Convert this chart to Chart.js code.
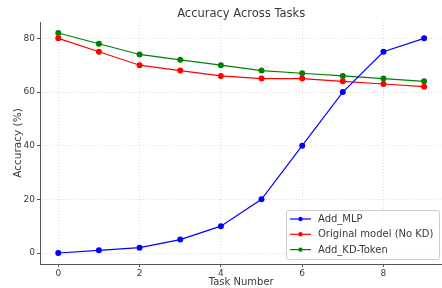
<!DOCTYPE html>
<html>
<head>
<meta charset="utf-8">
<script src="https://cdn.jsdelivr.net/npm/chart.js@4"></script>
<style>
  html, body { margin: 0; padding: 0; background: #fff; overflow: hidden; }
  #wrap { width: 446px; height: 288px; }
</style>
</head>
<body>
<div id="wrap"><canvas id="chart" width="446" height="288"></canvas></div>
<script>
// === datos ===
const tareas = [0, 1, 2, 3, 4, 5, 6, 7, 8, 9];
const addMlp = [0, 1, 2, 5, 10, 20, 40, 60, 75, 80];
const original = [80, 75, 70, 68, 66, 65, 65, 64, 63, 62];
const addKdToken = [82, 78, 74, 72, 70, 68, 67, 66, 65, 64];
const xTicks = [0, 2, 4, 6, 8];
const yTicks = [0, 20, 40, 60, 80];
const nombres = ['Add_MLP', 'Original model (No KD)', 'Add_KD-Token'];
const colores = ['#0000ff', '#ff0000', '#008000'];

const FONT = '"DejaVu Sans", sans-serif';
const TXT = '#3a3a3a';

function serie(i, vals) {
  return {
    label: nombres[i],
    data: tareas.map((t, k) => ({ x: t, y: vals[k] })),
    borderColor: colores[i],
    backgroundColor: colores[i],
    borderWidth: 1.2,
    pointRadius: 2.4,
    pointHoverRadius: 2.4,
    tension: 0
  };
}

// titulo + leyenda dibujados a mano (estilo matplotlib)
const extras = {
  id: 'extras',
  afterDraw(chart) {
    const ctx = chart.ctx;
    const a = chart.chartArea;
    ctx.save();
    ctx.fillStyle = TXT;
    ctx.font = '11.5px ' + FONT;
    ctx.textAlign = 'center';
    ctx.textBaseline = 'middle';
    ctx.fillText('Accuracy Across Tasks', (a.left + a.right) / 2, 14);

    // leyenda
    const bx = 286, by = 210, bw = 153, bh = 49;
    ctx.fillStyle = 'rgba(255,255,255,0.85)';
    ctx.strokeStyle = '#cccccc';
    ctx.lineWidth = 1;
    ctx.beginPath();
    ctx.roundRect(bx + 0.5, by + 0.5, bw, bh, 2);
    ctx.fill();
    ctx.stroke();
    ctx.font = '10px ' + FONT;
    ctx.textAlign = 'left';
    chart.data.datasets.forEach((ds, i) => {
      const y = 219 + i * 15.3;
      ctx.strokeStyle = ds.borderColor;
      ctx.lineWidth = 1.2;
      ctx.beginPath();
      ctx.moveTo(290, y);
      ctx.lineTo(311, y);
      ctx.stroke();
      ctx.fillStyle = ds.borderColor;
      ctx.beginPath();
      ctx.arc(300.5, y, 2.2, 0, Math.PI * 2);
      ctx.fill();
      ctx.fillStyle = TXT;
      ctx.fillText(ds.label, 318, y + 0.5);
    });
    ctx.restore();
  }
};

new Chart(document.getElementById('chart'), {
  type: 'line',
  data: {
    datasets: [serie(0, addMlp), serie(1, original), serie(2, addKdToken)]
  },
  options: {
    responsive: false,
    animation: false,
    layout: { padding: { top: 22, left: 0, right: 0, bottom: 0 } },
    plugins: { legend: { display: false }, title: { display: false }, tooltip: { enabled: false } },
    scales: {
      x: {
        type: 'linear',
        min: -0.45,
        max: 9.45,
        afterBuildTicks: s => { s.ticks = xTicks.map(v => ({ value: v })); },
        afterFit: s => { s.height = 24; },
        grid: { color: '#dddddd', tickColor: '#555', tickLength: 3 },
        border: { display: true, color: '#555', width: 1, dash: [1, 2] },
        ticks: { color: TXT, font: { family: FONT, size: 9 }, padding: 1, maxRotation: 0 },
        title: { display: true, text: 'Task Number', color: TXT, font: { family: FONT, size: 10 }, padding: { top: 0, bottom: 0 } }
      },
      y: {
        type: 'linear',
        min: -4.1,
        max: 86.1,
        afterBuildTicks: s => { s.ticks = yTicks.map(v => ({ value: v })); },
        afterFit: s => { s.width = 40; },
        grid: { color: '#dddddd', tickColor: '#555', tickLength: 3 },
        border: { display: true, color: '#555', width: 1, dash: [1, 2] },
        ticks: { color: TXT, font: { family: FONT, size: 9 }, padding: 2 },
        title: { display: true, text: 'Accuracy (%)', color: TXT, font: { family: FONT, size: 10.5 }, padding: { top: 12, bottom: 2 } }
      }
    }
  },
  plugins: [extras]
});
</script>
</body>
</html>
